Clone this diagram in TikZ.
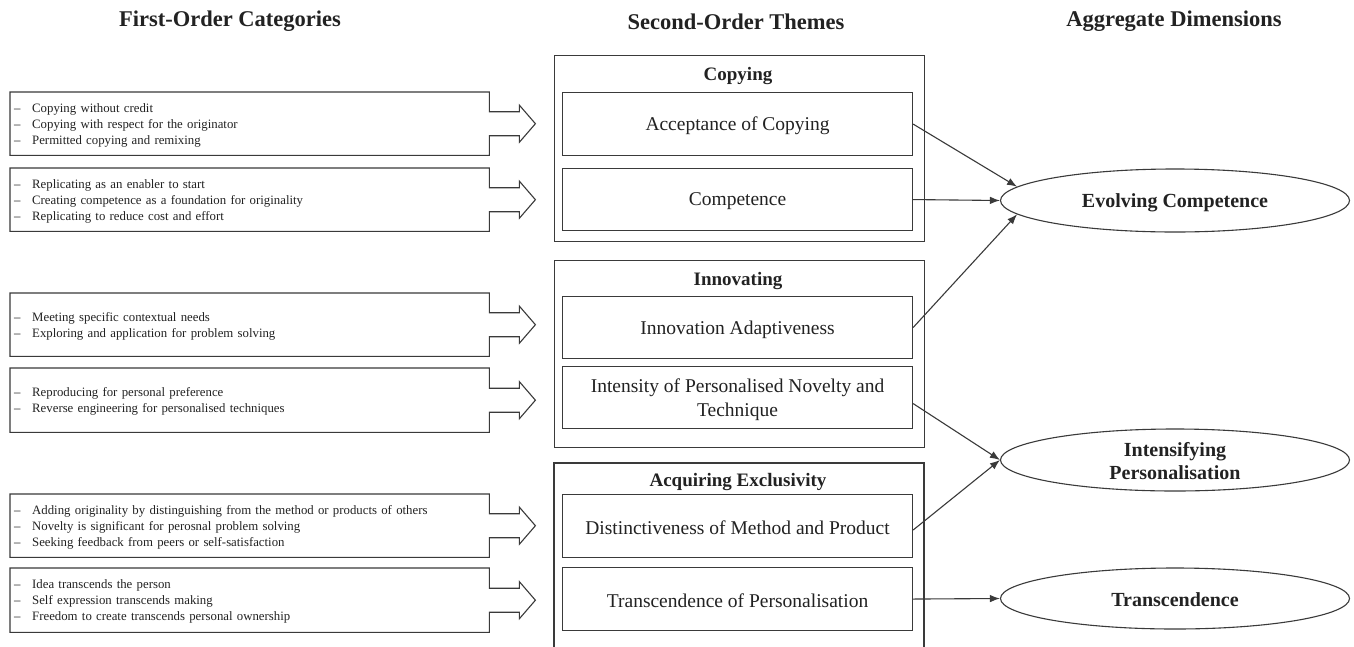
\documentclass[tikz,border=0pt]{standalone}
\usepackage{fontspec}
\setmainfont{Liberation Serif}
\usetikzlibrary{calc,arrows.meta,shapes.geometric}
\definecolor{linec}{HTML}{3A3A3A}
\definecolor{txtc}{HTML}{222222}
\newcommand\dashitem[1]{\makebox[18pt][l]{–}#1}
\newcommand\arrowbox[1]{%
  \draw[boxline] (#1.north west) -- (#1.north east) -- ($(#1.east)+(0,-12)$) -- ($(#1.east)+(30,-12)$) -- ($(#1.east)+(30,-18.5)$) -- ($(#1.east)+(46,0)$) -- ($(#1.east)+(30,18.5)$) -- ($(#1.east)+(30,12)$) -- ($(#1.east)+(0,12)$) -- (#1.south east) -- (#1.south west) -- cycle;}
\begin{document}
\begin{tikzpicture}[x=1pt,y=-1pt,
  boxline/.style={draw=linec, line width=1.1pt},
  cat/.style={rectangle, anchor=north west, minimum width=479pt, inner sep=0pt},
  cattext/.style={text width=471pt, inner sep=0pt, align=left, font=\fontsize{12.8}{16}\selectfont, text=txtc},
  theme/.style={rectangle, draw=linec, line width=1.1pt, minimum width=350pt, anchor=north west, inner sep=0pt},
  themetext/.style={inner sep=0pt, align=center, font=\fontsize{19.5}{24}\selectfont, text=txtc},
  group/.style={rectangle, draw=linec, line width=1.1pt, minimum width=370pt, anchor=north west, inner sep=0pt},
  gtitle/.style={font=\bfseries\fontsize{19}{23}\selectfont, text=txtc, inner sep=0pt},
  header/.style={font=\bfseries\fontsize{22.5}{26}\selectfont, text=txtc, inner sep=0pt},
  dim/.style={ellipse, draw=linec, line width=1.1pt, minimum width=349pt, inner sep=0pt},
  dimtext/.style={inner sep=0pt, align=center, font=\bfseries\fontsize{20}{23}\selectfont, text=txtc},
  link/.style={draw=linec, line width=1.1pt, -{Latex[length=10pt,width=7.5pt]}}]
\useasboundingbox (0,0) rectangle (1354,646);
\fill[white] (0,0) rectangle (1354,646);

% headers
\node[header] (h1) at (230,21.5) {First-Order Categories};
\node[header] (h2) at (736,21.5) {Second-Order Themes};
\node[header] (h3) at (1174,21.5) {Aggregate Dimensions};

% first-order categories
\node[cat, minimum height=63pt] (A) at (10,92) {};
\node[cattext] (At) at ($(A.center)+(0,1.5)$) {\dashitem{Copying without credit}\\\dashitem{Copying with respect for the originator}\\\dashitem{Permitted copying and remixing}};
\node[cat, minimum height=63pt] (B) at (10,168) {};
\node[cattext] (Bt) at ($(B.center)+(0,1.5)$) {\dashitem{Replicating as an enabler to start}\\\dashitem{Creating competence as a foundation for originality}\\\dashitem{Replicating to reduce cost and effort}};
\node[cat, minimum height=63pt] (C) at (10,293) {};
\node[cattext] (Ct) at ($(C.center)+(0,1.5)$) {\dashitem{Meeting specific contextual needs}\\\dashitem{Exploring and application for problem solving}};
\node[cat, minimum height=64pt] (D) at (10,368) {};
\node[cattext] (Dt) at ($(D.center)+(0,1.5)$) {\dashitem{Reproducing for personal preference}\\\dashitem{Reverse engineering for personalised techniques}};
\node[cat, minimum height=63pt] (E) at (10,494) {};
\node[cattext] (Et) at ($(E.center)+(0,1.5)$) {\dashitem{Adding originality by distinguishing from the method or products of others}\\\dashitem{Novelty is significant for perosnal problem solving}\\\dashitem{Seeking feedback from peers or self-satisfaction}};
\node[cat, minimum height=64pt] (F) at (10,568) {};
\node[cattext] (Ft) at ($(F.center)+(0,1.5)$) {\dashitem{Idea transcends the person}\\\dashitem{Self expression transcends making}\\\dashitem{Freedom to create transcends personal ownership}};
\arrowbox{A}\arrowbox{B}\arrowbox{C}\arrowbox{D}\arrowbox{E}\arrowbox{F}

% groups
\node[group, minimum height=186pt] (g1) at (554,55) {};
\node[gtitle] (g1t) at (738,76) {Copying};
\node[group, minimum height=187pt] (g2) at (554,260) {};
\node[gtitle] (g2t) at (738,281) {Innovating};
\draw[boxline] (554,660) -- (554,463) -- (924,463) -- (924,660);
\node[gtitle] (g3t) at (738,482) {Acquiring Exclusivity};

% second-order themes
\node[theme, minimum height=63pt] (acc) at (562,92) {};
\node[themetext] (acct) at ($(acc.center)+(0,2)$) {Acceptance of Copying};
\node[theme, minimum height=62pt] (comp) at (562,168) {};
\node[themetext] (compt) at ($(comp.center)+(0,2)$) {Competence};
\node[theme, minimum height=62pt] (innad) at (562,296) {};
\node[themetext] (innadt) at ($(innad.center)+(0,2)$) {Innovation Adaptiveness};
\node[theme, minimum height=62pt] (intens) at (562,366) {};
\node[themetext] (intenst) at ($(intens.center)+(0,2.5)$) {Intensity of Personalised Novelty and\\Technique};
\node[theme, minimum height=63pt] (dist) at (562,494) {};
\node[themetext] (distt) at ($(dist.center)+(0,2)$) {Distinctiveness of Method and Product};
\node[theme, minimum height=63pt] (trans) at (562,567) {};
\node[themetext] (transt) at ($(trans.center)+(0,2)$) {Transcendence of Personalisation};

% aggregate dimensions
\node[dim, minimum height=63pt] (evo) at (1175,200.5) {};
\node[dimtext] (evot) at ($(evo.center)+(0,2)$) {Evolving Competence};
\node[dim, minimum height=62pt] (inten) at (1175,460) {};
\node[dimtext] (intent) at ($(inten.center)+(0,1.5)$) {Intensifying\\Personalisation};
\node[dim, minimum height=61pt] (tra) at (1175,598.5) {};
\node[dimtext] (trat) at ($(tra.center)+(0,1)$) {Transcendence};

% links
\draw[link] (acc.east) -- (evo.175);
\draw[link] (comp.east) -- (evo.west);
\draw[link] (innad.east) -- (evo.185);
\draw[link] ($(intens.east)+(0,6)$) -- (inten.west);
\draw[link] ($(dist.east)+(0,4)$) -- (inten.west);
\draw[link] (trans.east) -- (tra.west);
\end{tikzpicture}
\end{document}
